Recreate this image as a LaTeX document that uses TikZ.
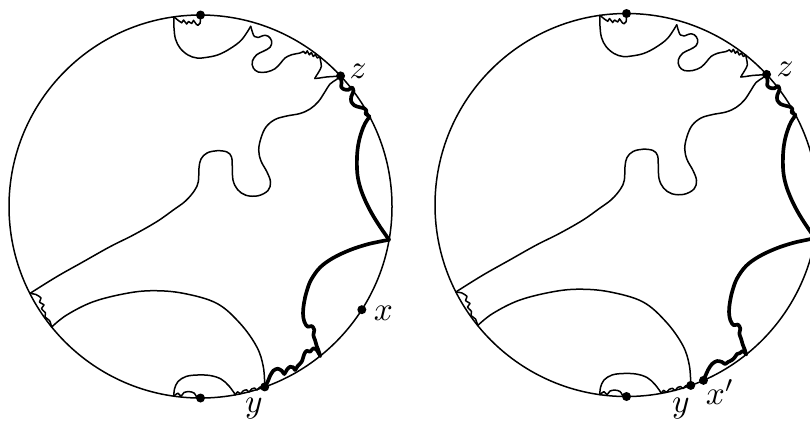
\documentclass[tikz,border=0pt]{standalone}
\usetikzlibrary{calc}
\tikzset{
  thinline/.style={line width=0.45pt, line join=round, line cap=round},
  thickline/.style={line width=1.1pt, line join=round, line cap=round},
  dotmark/.style={circle, fill=black, inner sep=0pt, minimum size=2.7pt},
  lbl/.style={inner sep=0pt},
}
\newcommand\diskbase[1]{%
  \coordinate (#1C) at (200.5,206.5);
  \coordinate (#1top) at ($(#1C)+(-90:191.5)$);
  \coordinate (#1bot) at ($(#1C)+(90:191.5)$);
  \coordinate (#1z) at ($(#1C)+(-43:191.5)$);
  \coordinate (#1y) at ($(#1C)+(70.4:191.5)$);
  \coordinate (#1tl) at ($(#1C)+(-98:191.5)$);
  \coordinate (#1tw) at ($(#1C)+(-51.5:191.5)$);
  \coordinate (#1ts) at ($(#1C)+(-28:191.5)$);
  \coordinate (#1J) at ($(#1C)+(10:191.5)$);
  \coordinate (#1T) at ($(#1C)+(51.3:191.5)$);
  \coordinate (#1lw) at ($(#1C)+(153:191.5)$);
  \coordinate (#1lb) at ($(#1C)+(141:191.5)$);
  \coordinate (#1ll) at ($(#1C)+(98:191.5)$);
  \coordinate (#1la) at ($(#1C)+(79.5:191.5)$);
  \coordinate (#1lbd) at ($(#1C)+(91:191.5)$);
  % outer circle
  \draw[thinline] (#1C) circle[radius=191.5];
  % top zigzag
  \draw[thinline] (#1top) -- (200.2,23) -- (198,25.3) -- (196.5,24.5) -- (193.5,20.3) -- (191.7,23.5) -- (188.5,21.5) -- (186.7,24) -- (183.5,20) -- (181.7,22.8) -- (178.5,20.6) -- (#1tl);
  % top loop
  \draw[thinline] plot[smooth, tension=0.6] coordinates {(#1tl) (174,28) (175.5,39) (180,48) (188,55) (197,58) (207,57.3) (218.3,54.7) (230,48.7) (241.7,39.7) (250.7,26.3)};
  \draw[thinline] plot[smooth, tension=0.6] coordinates {(250.7,26.3) (252.7,33) (254.5,36.5) (258.3,37.5) (263.3,35.5) (268.3,36.3) (271.7,41.3) (270,47.3) (263.3,51.3) (256.7,54.7) (252.3,61.3) (253.3,68) (258.3,72) (266.7,72) (275,68.7) (280.7,63) (285,58) (291.7,54.7) (300,53) (303.3,51.3)};
  \draw[thinline] (303.3,51.3) -- (305.5,53.5) -- (307.3,50.8) -- (309.3,54.8) -- (311.3,52.5) -- (313.3,56.5) -- (315.3,54.5) -- (317.3,58) -- (#1tw);
  \draw[thinline] plot[smooth, tension=0.6] coordinates {(#1tw) (320.6,61) (321.3,66.5) (319,71.5) (316.3,75.8) (314.8,78.5)};
  \draw[thinline] plot[smooth, tension=0.6] coordinates {(314.8,78.5) (319.5,78) (327,76.9) (335,76.4) (#1z)};
  % long curve from z
  \draw[thinline] plot[smooth, tension=0.6] coordinates {(#1z) (336.5,79.5) (330,84) (325,91.7) (318.3,101.7) (310,109) (300,113.5) (286.7,116) (275,119.5) (266,127) (261,138) (258.7,150) (261,161) (267,172) (270.5,182) (268,190.5) (258,195.8) (246,195.3) (237.5,189.5) (233,180) (232.3,167) (231.5,157) (227,152) (217,150.7) (207,153) (201,159) (199,168) (198.3,181.7) (194.5,190.5) (185.5,201) (173.3,210) (156.7,221.7) (133.3,235) (110,246.7) (83.3,261.7) (56.7,276.7) (#1lw)};
  % left wiggle
  \draw[thinline] plot[smooth, tension=0.4] coordinates {(#1lw) (36,294.5) (41,298) (39.5,302) (44,305) (41.5,308.5) (45.5,313) (45,317) (49.5,320.5) (#1lb)};
  % big arc
  \draw[thinline] plot[smooth, tension=0.6] coordinates {(#1lb) (66.7,315) (93.3,301.7) (126.7,293.3) (153.3,290.7) (183.3,293.3) (216.7,303.3) (240,323.3) (256.7,346.7) (263.3,366.7) (#1y)};
  % bottom lasso
  \draw[thinline] plot[smooth, tension=0.6] coordinates {(#1ll) (174.5,389) (178,381.5) (186,376.5) (197,375) (210,375.5) (221,379) (229,386) (#1la)};
  \draw[thinline] plot[smooth, tension=0.5] coordinates {(#1ll) (178,393.2) (181,396.2) (184,392.5) (189,391.6) (194,393) (#1lbd)};
  \draw[thinline] plot[smooth, tension=0.5] coordinates {(#1la) (237.5,391.8) (240.5,393.7) (243,391) (246.5,389.8) (249,392) (251.5,389) (254.5,388) (257,390) (259.5,387.3) (262.5,386.5) (#1y)};
  % thick curves
  \draw[thickline] plot[smooth, tension=0.5] coordinates {(#1z) (341.5,82.5) (341.3,87) (344,89.3) (348.5,89.8) (351.8,87.3) (353.5,91) (351.3,96.5) (351.2,101.5) (354.5,105.5) (360,107.3) (364.5,108.5) (366.5,111) (365.5,113.5) (#1ts)};
  \draw[thickline] plot[smooth, tension=0.6] coordinates {(#1ts) (365,123.5) (361.5,132) (358.5,143.3) (357,156.7) (357.3,173.3) (360,186.7) (365,200) (371.7,213.3) (380,226.7) (#1J)};
  \draw[thickline] plot[smooth, tension=0.6] coordinates {(#1J) (380,241.5) (366.7,244.5) (350,250) (333,258) (320,267.5) (311,280) (306.5,292) (304,303) (303,313.3) (304.3,321.7) (307.7,326.7) (311.7,326) (314.3,330) (313.3,335) (315,340) (316.7,346) (318.3,350) (#1T)};
  % dots
  \node[dotmark] (#1dtop) at (#1top) {};
  \node[dotmark] (#1dbot) at (#1bot) {};
  \node[dotmark] (#1dz) at (#1z) {};
  \node[dotmark] (#1dy) at (#1y) {};
}

\begin{document}
\begin{tikzpicture}[x=0.3pt,y=-0.3pt]
\useasboundingbox (0,0) rectangle (810,422);
\clip (0,0) rectangle (810,422);
% left disk
\begin{scope}
  \diskbase{L}
  \coordinate (Lx) at ($(LC)+(32.6:191.5)$);
  \draw[thickline] plot[smooth, tension=0.5] coordinates {(Ly) (267.7,381.7) (270,376) (273.3,370.7) (277.7,368.7) (281.7,370.7) (284.3,374) (286.7,370) (290,366.7) (293.3,367.3) (295,370) (297.7,366) (301.7,361.7) (304.3,354) (306.7,350.7) (310,351.7) (313.3,348.3) (316.7,350) (LT)};
  \node[dotmark] (Ldx) at (Lx) {};
\end{scope}
% right disk
\begin{scope}[shift={(426,-1.5)}]
  \diskbase{R}
  \coordinate (Rxp) at ($(RC)+(66.3:191.5)$);
  \draw[thickline] plot[smooth, tension=0.5] coordinates {(Rxp) (282,371.5) (286,365.5) (291,362.5) (296,363.5) (299,365.5) (302,363.5) (306,361.5) (309,358.5) (311,355.5) (314,354.5) (317,352.5) (RT)};
  \node[dotmark] (Rdxp) at (Rxp) {};
\end{scope}
% labels
\node[lbl] (Llz) at (358,71.5) {$z$};
\node[lbl] (Llx) at (383.5,313) {$x$};
\node[lbl] (Lly) at (254,408.3) {$y$};
\node[lbl] (Rlz) at (785,69.5) {$z$};
\node[lbl] (Rly) at (680.8,408.3) {$y$};
\node[lbl] (Rlxp) at (720,392) {$x'$};
\end{tikzpicture}
\end{document}
